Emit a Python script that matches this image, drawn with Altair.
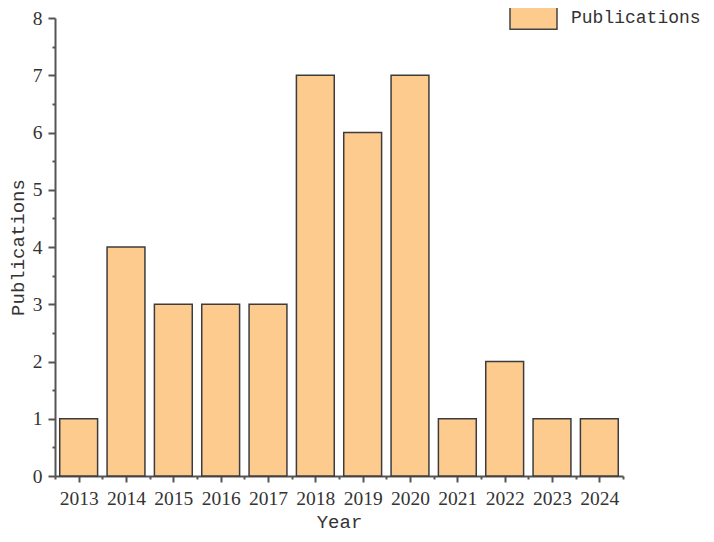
import altair as alt
import pandas as pd

years = [2013, 2014, 2015, 2016, 2017, 2018, 2019, 2020, 2021, 2022, 2023, 2024]
publications = [1, 4, 3, 3, 3, 7, 6, 7, 1, 2, 1, 1]
series = ["Publications"] * len(years)

df = pd.DataFrame({"Year": years, "Publications": publications, "series": series})

x_ticks = [2012.5 + 0.5 * i for i in range(25)]
y_ticks = [0.5 * i for i in range(17)]

FILL = "#FECB8F"
AX = "#555555"
TXT = "#333333"

chart = (
    alt.Chart(df)
    .transform_calculate(x0="datum.Year - 0.4", x1="datum.Year + 0.4")
    .mark_bar(stroke="#3c3c3c", strokeWidth=1.5)
    .encode(
        x=alt.X(
            "x0:Q",
            scale=alt.Scale(domain=[2012.5, 2024.5], nice=False, zero=False),
            axis=alt.Axis(
                title="Year",
                values=x_ticks,
                labelExpr="datum.value % 1 === 0 ? datum.value : ''",
                tickSize={"condition": {"test": "datum.value % 1 !== 0", "value": 3}, "value": 6},
                grid=False,
                domainColor=AX,
                domainWidth=2,
                tickColor=AX,
                tickWidth=2,
                labelFont="Liberation Serif",
                labelFontSize=19.5,
                labelColor=TXT,
                labelPadding=7,
                titleFont="Liberation Mono",
                titleFontSize=19,
                titleFontWeight="normal",
                titleColor=TXT,
                titlePadding=5,
            ),
        ),
        x2="x1:Q",
        y=alt.Y(
            "Publications:Q",
            scale=alt.Scale(domain=[0, 8], nice=False),
            axis=alt.Axis(
                title="Publications",
                values=y_ticks,
                labelExpr="datum.value % 1 === 0 ? datum.value : ''",
                tickSize={"condition": {"test": "datum.value % 1 !== 0", "value": 3}, "value": 7},
                grid=False,
                domainColor=AX,
                domainWidth=2,
                tickColor=AX,
                tickWidth=2,
                labelFont="Liberation Serif",
                labelFontSize=19.5,
                labelColor=TXT,
                labelPadding=6,
                titleFont="Liberation Mono",
                titleFontSize=19,
                titleFontWeight="normal",
                titleColor=TXT,
                titlePadding=5,
            ),
        ),
        y2=alt.datum(0),
        color=alt.Color(
            "series:N",
            scale=alt.Scale(range=[FILL]),
            legend=alt.Legend(
                title=None,
                orient="none",
                legendX=454,
                legendY=-25,
                padding=0,
                symbolType="M-1,-0.5H1V0.5H-1Z",
                symbolSize=2209,
                symbolStrokeColor="#444444",
                symbolStrokeWidth=1.5,
                symbolOpacity=1,
                labelFont="Liberation Mono",
                labelFontSize=18,
                labelColor=TXT,
                labelOffset=13,
            ),
        ),
    )
    .properties(
        width=568,
        height=458,
        padding={"left": 47, "top": 10, "right": 83, "bottom": 58},
        autosize=alt.AutoSizeParams(type="none"),
    )
    .configure_view(stroke=None)
)

chart.save("out.html", embed_options={"renderer": "svg", "actions": False})
